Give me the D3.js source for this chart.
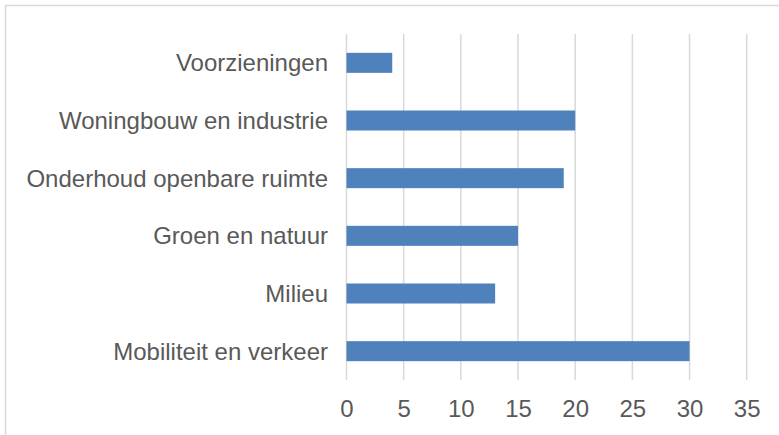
<!DOCTYPE html>
<html><head><meta charset="utf-8">
<script src="https://cdn.jsdelivr.net/npm/d3@7"></script>
<style>body{margin:0;background:#fff}svg{display:block}</style>
</head><body>
<script>
const categories = ["Voorzieningen","Woningbouw en industrie","Onderhoud openbare ruimte","Groen en natuur","Milieu","Mobiliteit en verkeer"];
const values = [4,20,19,15,13,30];
const tickValues = [0,5,10,15,20,25,30,35];

const W=779,H=435;
const svg=d3.select("body").append("svg").attr("width",W).attr("height",H);
svg.append("rect").attr("x",5.5).attr("y",5.5).attr("width",W+10).attr("height",H+10)
  .attr("fill","none").attr("stroke","#d9d9d9").attr("stroke-width",1.5);

const x=d3.scaleLinear().domain([0,35]).range([346.5,746.7]);
const y=d3.scaleBand().domain(categories).range([34,380]).paddingInner(0.653).paddingOuter(0.3265);

svg.append("g").selectAll("line").data(tickValues).join("line")
  .attr("x1",d=>x(d)).attr("x2",d=>x(d)).attr("y1",34).attr("y2",380)
  .attr("stroke","#d9d9d9").attr("stroke-width",1.5);

svg.append("g").selectAll("rect").data(values).join("rect")
  .attr("x",x(0)).attr("y",(d,i)=>y(categories[i]))
  .attr("width",d=>x(d)-x(0)).attr("height",y.bandwidth()).attr("fill","#4f81bd");

const font="'Liberation Sans', Arial, sans-serif";
svg.append("g").selectAll("text").data(categories).join("text")
  .attr("x",328).attr("y",d=>y(d)+y.bandwidth()/2).attr("dy","0.35em")
  .attr("text-anchor","end").attr("font-family",font).attr("font-size",24).attr("fill","#595959").text(d=>d);

const xa=d3.axisBottom(x).tickValues(tickValues).tickSize(0).tickPadding(0);
const g=svg.append("g").attr("transform","translate(0,400)").call(xa);
g.select(".domain").remove();
g.selectAll("text").attr("font-family",font).attr("font-size",24).attr("fill","#595959").attr("dy","0.71em");
</script>
</body></html>
